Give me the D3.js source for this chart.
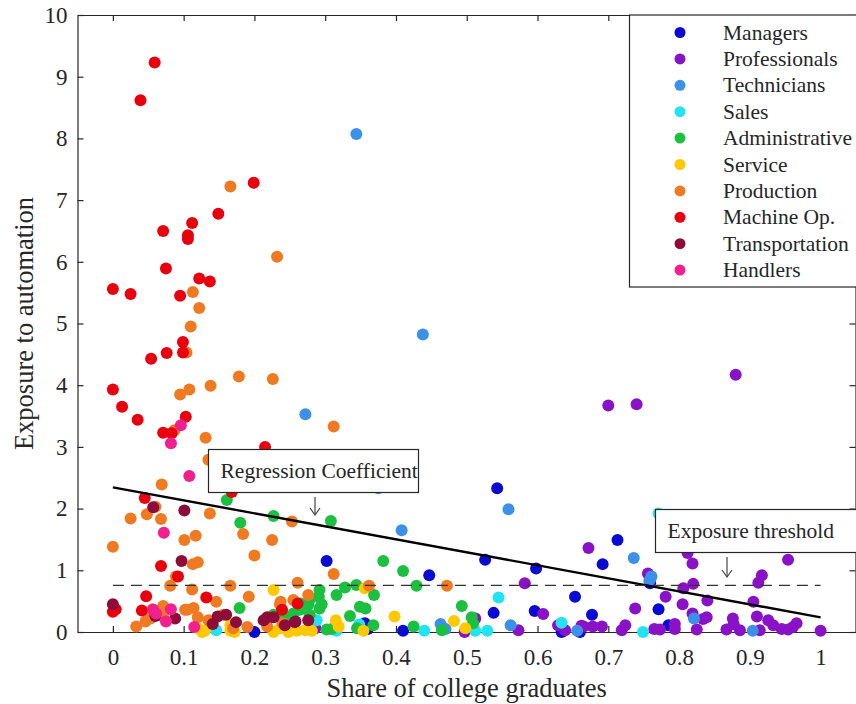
<!DOCTYPE html>
<html>
<head>
<meta charset="utf-8">
<script src="https://cdn.jsdelivr.net/npm/d3@7/dist/d3.min.js"></script>
<style>
  html, body { margin: 0; padding: 0; background: #fff; }
  svg { display: block; font-family: "Liberation Serif", "Times New Roman", serif; }
</style>
</head>
<body>
<svg id="chart" width="856" height="704"></svg>
<script>
// Occupation groups, in legend order
const groups = ["Managers", "Professionals", "Technicians", "Sales", "Administrative",
                "Service", "Production", "Machine Op.", "Transportation", "Handlers"];
const groupColors = ["#0a0ad2", "#8a12c6", "#3c90e8", "#22e4f0", "#1cc040",
                     "#ffc800", "#f07a22", "#e8000e", "#8c0c3a", "#f0208e"];

// [share of college graduates, exposure to automation] per occupation
const managers = [[0.543,2.33],[0.302,1.15],[0.447,0.92],[0.526,1.17],[0.598,1.03],[0.538,0.31],
  [0.596,0.34],[0.653,0.57],[0.41,0.02],[0.356,0.14],[0.36,0.05],[0.2,0.0],[0.713,1.49],[0.692,1.10],
  [0.677,0.28],[0.771,0.37],[0.785,0.11],[0.66,0.0],[0.634,0.0],[0.759,0.79]];
const professionals = [[0.70,3.67],[0.74,3.69],[0.88,4.17],[0.672,1.36],[0.582,0.79],[0.608,0.29],
  [0.512,0.22],[0.497,0.0],[0.573,0.03],[0.629,0.11],[0.639,0.03],[0.286,0.06],[0.665,0.09],[0.678,0.09],
  [0.691,0.09],[0.719,0.03],[0.724,0.11],[0.738,0.38],[0.756,0.95],[0.765,0.05],[0.781,0.57],[0.805,0.45],
  [0.812,1.28],[0.819,1.11],[0.806,0.71],[0.820,0.78],[0.840,0.51],[0.819,0.30],[0.839,0.24],[0.834,0.21],
  [0.905,0.49],[0.917,0.92],[0.912,0.80],[0.954,1.17],[0.910,0.25],[0.876,0.22],[0.926,0.19],[0.933,0.11],
  [0.966,0.14],[1.0,0.02],[0.662,0.10],[0.773,0.04],[0.794,0.05],[0.794,0.13],[0.825,0.04],[0.867,0.04],
  [0.877,0.13],[0.886,0.03],[0.914,0.03],[0.945,0.05],[0.954,0.04],[0.961,0.08],[0.884,1.44]];
const technicians = [[0.344,8.07],[0.438,4.82],[0.272,3.53],[0.375,2.33],[0.408,1.65],[0.559,1.99],
  [0.463,0.13],[0.47,0.05],[0.562,0.11],[0.656,0.02],[0.736,1.20],[0.761,0.90],[0.758,0.83],
  [0.821,0.22],[0.904,0.02]];
const sales = [[0.146,0.03],[0.288,0.19],[0.316,0.02],[0.348,0.12],[0.545,0.56],[0.512,0.02],
  [0.529,0.02],[0.634,0.15],[0.749,0.0],[0.771,1.92],[0.44,0.02]];
const administrative = [[0.161,2.14],[0.180,1.77],[0.227,1.88],[0.308,1.80],[0.382,1.15],[0.410,0.99],
  [0.429,0.75],[0.344,0.76],[0.328,0.72],[0.292,0.68],[0.291,0.57],[0.316,0.60],[0.369,0.60],[0.295,0.45],
  [0.276,0.44],[0.349,0.41],[0.335,0.26],[0.493,0.42],[0.425,0.09],[0.368,0.11],[0.345,0.06],[0.302,0.04],
  [0.465,0.03],[0.509,0.14],[0.507,0.24],[0.179,0.39],[0.227,0.28],[0.243,0.25],[0.255,0.30],[0.292,0.38],
  [0.264,0.36],[0.278,0.28],[0.232,0.25],[0.309,0.05],[0.357,0.38],[0.278,0.52],[0.265,0.46]];
const service = [[0.126,0.0],[0.13,0.02],[0.166,0.02],[0.172,0.0],[0.166,0.11],[0.227,0.68],[0.227,0.0],
  [0.248,0.0],[0.26,0.02],[0.272,0.03],[0.281,0.02],[0.236,0.06],[0.315,0.19],[0.319,0.09],[0.354,0.02],
  [0.356,0.71],[0.398,0.25],[0.482,0.18],[0.498,0.06],[0.12,0.06]];
const production = [[0.166,7.22],[0.232,6.08],[0.113,5.51],[0.122,5.25],[0.110,4.95],[0.104,4.53],
  [0.178,4.14],[0.226,4.10],[0.138,3.99],[0.108,3.93],[0.095,3.85],[0.131,3.15],[0.087,3.27],[0.135,2.79],
  [0.069,2.39],[0.312,3.33],[0.025,1.84],[0.048,1.91],[0.060,2.03],[0.068,1.83],[0.0,1.38],[0.101,1.49],
  [0.117,1.56],[0.113,1.10],[0.120,1.13],[0.137,1.92],[0.184,1.59],[0.200,1.24],[0.225,1.49],[0.253,1.79],
  [0.089,0.90],[0.081,0.75],[0.112,0.69],[0.166,0.75],[0.192,0.57],[0.261,0.80],[0.146,0.49],[0.071,0.42],
  [0.033,0.09],[0.046,0.17],[0.053,0.22],[0.071,0.25],[0.105,0.36],[0.114,0.39],[0.12,0.24],[0.135,0.19],
  [0.156,0.28],[0.17,0.06],[0.19,0.08],[0.218,0.09],[0.24,0.14],[0.236,0.45],[0.255,0.52],[0.312,0.94],
  [0.276,0.60],[0.237,0.49],[0.362,0.75],[0.472,0.75],[0.056,0.37],[0.102,0.36]];
const machineOp = [[0.059,9.23],[0.039,8.62],[0.199,7.28],[0.149,6.78],[0.112,6.63],[0.106,6.43],
  [0.106,6.37],[0.071,6.50],[0.0,5.56],[0.025,5.48],[0.075,5.89],[0.122,5.73],[0.137,5.68],[0.095,5.45],
  [0.099,4.70],[0.099,4.53],[0.076,4.52],[0.054,4.43],[0.0,3.93],[0.013,3.65],[0.035,3.44],[0.103,3.49],
  [0.071,3.23],[0.083,3.22],[0.215,3.00],[0.168,2.27],[0.045,2.17],[0.068,1.07],[0.092,0.90],[0.047,0.58],
  [0.132,0.56],[0.0,0.33],[0.004,0.37],[0.041,0.35],[0.239,0.36],[0.261,0.46]];
const transportation = [[0.057,2.02],[0.101,1.97],[0.097,1.15],[0.0,0.45],[0.060,0.26],[0.088,0.22],
  [0.141,0.13],[0.148,0.25],[0.160,0.28],[0.174,0.16],[0.213,0.19],[0.218,0.24],[0.257,0.16],[0.227,0.24],
  [0.243,0.11],[0.258,0.17],[0.276,0.19]];
const handlers = [[0.096,3.35],[0.082,3.06],[0.108,2.53],[0.072,1.61],[0.057,0.36],[0.082,0.37],
  [0.075,0.17],[0.115,0.08],[0.061,0.30]];

const groupData = [managers, professionals, technicians, sales, administrative,
                   service, production, machineOp, transportation, handlers];

// Fitted line end points and the exposure threshold
const regressionLine = [[0, 2.345], [1, 0.238]];
const thresholdValue = 0.757;
const thresholdSpan = [0, 1];

const xTicks = [0, 0.1, 0.2, 0.3, 0.4, 0.5, 0.6, 0.7, 0.8, 0.9, 1];
const yTicks = [0, 1, 2, 3, 4, 5, 6, 7, 8, 9, 10];

const svg = d3.select("#chart");
const plot = { left: 77.5, right: 856, top: 15, bottom: 632 };

const x = d3.scaleLinear().domain([-0.05, 1.05]).range([plot.left, plot.right]);
const y = d3.scaleLinear().domain([0, 10]).range([plot.bottom, plot.top]);

const tickLen = 6;
const axisColor = "#262626";
const tickFont = 23;

// Frame with inward ticks on all four sides
const frame = svg.append("g");
const bottomAxis = d3.axisBottom(x).tickValues(xTicks).tickFormat(d3.format("~g"))
  .tickSizeInner(-tickLen).tickSizeOuter(0).tickPadding(17);
frame.append("g").attr("transform", `translate(0,${plot.bottom})`).call(bottomAxis);
const topAxis = d3.axisTop(x).tickValues(xTicks).tickFormat("")
  .tickSizeInner(-tickLen).tickSizeOuter(0);
frame.append("g").attr("transform", `translate(0,${plot.top})`).call(topAxis);
const leftAxis = d3.axisLeft(y).tickValues(yTicks).tickFormat(d3.format("d"))
  .tickSizeInner(-tickLen).tickSizeOuter(0).tickPadding(10);
frame.append("g").attr("transform", `translate(${plot.left},0)`).call(leftAxis);
const rightAxis = d3.axisRight(y).tickValues(yTicks).tickFormat("")
  .tickSizeInner(-tickLen).tickSizeOuter(0);
frame.append("g").attr("transform", `translate(${plot.right - 0.5},0)`).call(rightAxis);

frame.selectAll(".domain").attr("stroke", axisColor).attr("stroke-width", 1.2);
frame.selectAll(".tick line").attr("stroke", axisColor).attr("stroke-width", 1.2);
frame.selectAll(".tick text")
  .attr("font-family", "Liberation Serif, Times New Roman, serif")
  .attr("font-size", tickFont).attr("fill", "#262626");

// Axis titles
svg.append("text")
  .attr("x", x(0.5)).attr("y", 697)
  .attr("text-anchor", "middle").attr("font-size", 26.5).attr("fill", "#262626")
  .text("Share of college graduates");
svg.append("text")
  .attr("transform", `translate(33,${(plot.top + plot.bottom) / 2}) rotate(-90)`)
  .attr("text-anchor", "middle").attr("font-size", 26.5).attr("fill", "#262626")
  .text("Exposure to automation");

// Scatter points, one layer per occupation group
const pts = svg.append("g");
groupData.forEach((rows, gi) => {
  pts.append("g").selectAll("circle").data(rows).join("circle")
    .attr("cx", d => x(d[0])).attr("cy", d => y(d[1])).attr("r", 6)
    .attr("fill", groupColors[gi]);
});

// Regression line and dashed threshold
const line = d3.line().x(d => x(d[0])).y(d => y(d[1]));
svg.append("path").datum(regressionLine).attr("d", line)
  .attr("stroke", "#000").attr("stroke-width", 2.4).attr("fill", "none");
svg.append("path").datum(thresholdSpan.map(v => [v, thresholdValue])).attr("d", line)
  .attr("stroke", "#333").attr("stroke-width", 1.2).attr("stroke-dasharray", "11,7").attr("fill", "none");

// Annotation boxes with down arrows
function annotate(bx, by, bw, bh, label, ax, ay0, ay1) {
  const g = svg.append("g");
  g.append("rect").attr("x", bx).attr("y", by).attr("width", bw).attr("height", bh)
    .attr("fill", "#fff").attr("stroke", "#262626").attr("stroke-width", 1.2);
  g.append("text").attr("x", bx + 12).attr("y", by + bh / 2 + 7)
    .attr("font-size", 21.5).attr("fill", "#262626").text(label);
  g.append("line").attr("x1", ax).attr("x2", ax).attr("y1", ay0).attr("y2", ay1)
    .attr("stroke", "#444").attr("stroke-width", 1.2);
  g.append("path").attr("d", `M${ax - 5},${ay1 - 7}L${ax},${ay1}L${ax + 5},${ay1 - 7}`)
    .attr("stroke", "#444").attr("stroke-width", 1.2).attr("fill", "none");
}
annotate(208.5, 449.5, 210, 43, "Regression Coefficient", 315, 497, 515);
annotate(655.5, 509.5, 210, 43, "Exposure threshold", 727, 557, 577);

// Legend
const legend = svg.append("g");
legend.append("rect").attr("x", 629.5).attr("y", 15).attr("width", 240).attr("height", 272)
  .attr("fill", "#fff").attr("stroke", "#262626").attr("stroke-width", 1.2);
groups.forEach((name, i) => {
  const ly = 32.5 + i * 26.4;
  legend.append("circle").attr("cx", 680).attr("cy", ly).attr("r", 5.5).attr("fill", groupColors[i]);
  legend.append("text").attr("x", 723).attr("y", ly + 7).attr("font-size", 21.5)
    .attr("fill", "#262626").text(name);
});
</script>
</body>
</html>
